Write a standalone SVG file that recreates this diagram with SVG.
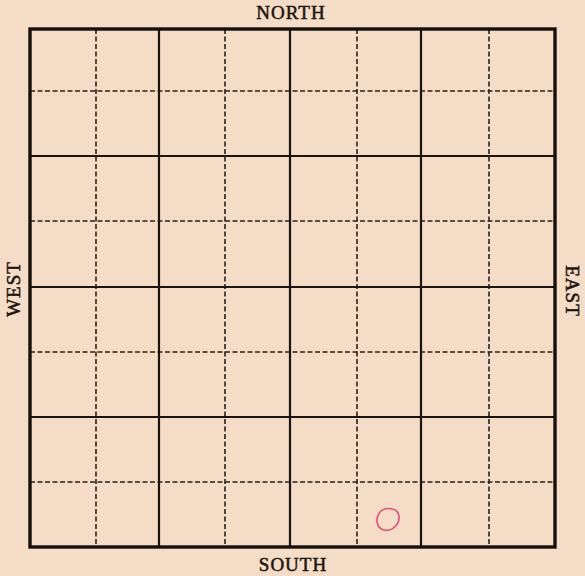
<svg xmlns="http://www.w3.org/2000/svg" width="585" height="576" viewBox="0 0 585 576">
<style>
.solid{stroke:#1a1410;stroke-width:2.2;fill:none}
.dash{stroke:#2a221c;stroke-width:1.6;stroke-dasharray:5 2.5;fill:none}
.outer{stroke:#15100c;stroke-width:3.4;fill:none}
.lbl{font-family:"Liberation Serif",serif;font-size:19px;letter-spacing:1px;fill:#1a1410;stroke:#1a1410;stroke-width:0.5;text-anchor:middle}
</style>
<rect x="0" y="0" width="585" height="576" fill="#f4dcc6"/>
<g id="grid">
<g id="dashed">
<line class="dash" x1="96" y1="29" x2="96" y2="547"/>
<line class="dash" x1="225" y1="29" x2="225" y2="547"/>
<line class="dash" x1="357" y1="29" x2="357" y2="547"/>
<line class="dash" x1="489" y1="29" x2="489" y2="547"/>
<line class="dash" x1="30" y1="91" x2="555" y2="91"/>
<line class="dash" x1="30" y1="221" x2="555" y2="221"/>
<line class="dash" x1="30" y1="352" x2="555" y2="352"/>
<line class="dash" x1="30" y1="482" x2="555" y2="482"/>
</g>
<g id="solid">
<line class="solid" x1="159" y1="29" x2="159" y2="547"/>
<line class="solid" x1="290" y1="29" x2="290" y2="547"/>
<line class="solid" x1="421" y1="29" x2="421" y2="547"/>
<line class="solid" x1="30" y1="156" x2="555" y2="156"/>
<line class="solid" x1="30" y1="287" x2="555" y2="287"/>
<line class="solid" x1="30" y1="417" x2="555" y2="417"/>
</g>
<rect id="border" class="outer" x="30" y="29" width="525" height="518"/>
</g>
<g id="labels">
<text id="north" class="lbl" x="291" y="19">NORTH</text>
<text id="south" class="lbl" x="293" y="571">SOUTH</text>
<text id="west" class="lbl" transform="translate(20,289) rotate(-90)">WEST</text>
<text id="east" class="lbl" transform="translate(566,291) rotate(90)">EAST</text>
</g>
<path id="mark" d="M380,512 C386,506 398,508 399,516 C400,524 392,532 384,530 C376,528 375,518 380,512 Z" fill="none" stroke="#e2507a" stroke-width="1.6"/>
</svg>
